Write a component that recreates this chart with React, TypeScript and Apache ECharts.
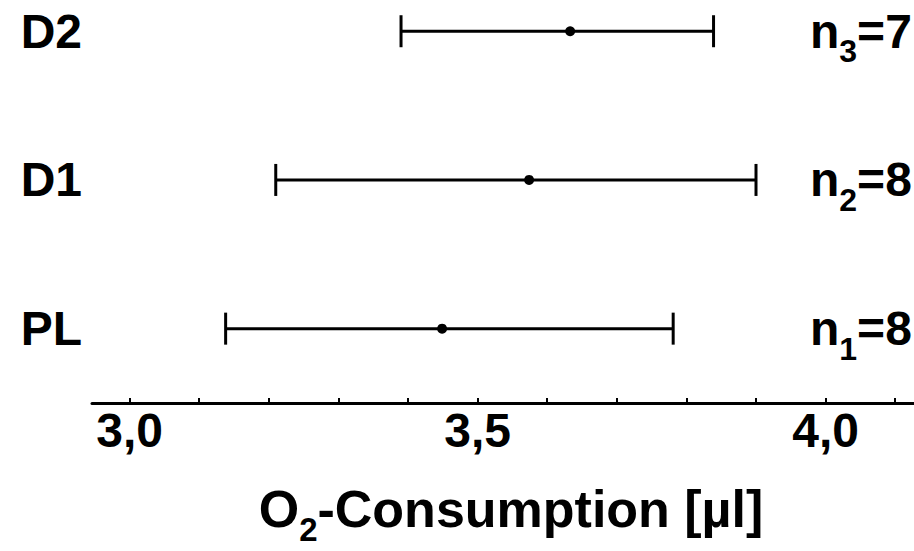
import React, { useEffect, useRef } from "react";
import * as echarts from "echarts";

const categories = ["PL", "D1", "D2"];
const means = [3.449, 3.574, 3.633];
const lows = [3.138, 3.21, 3.39];
const highs = [3.781, 3.9, 3.839];
const nSubs = ["1", "2", "3"];
const nValues = [8, 8, 7];
const tickValues = [3.0, 3.1, 3.2, 3.3, 3.4, 3.5, 3.6, 3.7, 3.8, 3.9, 4.0, 4.1];
const labelValues = [3.0, 3.5, 4.0];

const FONT = "'Liberation Sans', Arial, Helvetica, sans-serif";

export default function App() {
  const ref = useRef<HTMLDivElement>(null);
  useEffect(() => {
    if (!ref.current) return;
    const chart = echarts.init(ref.current, undefined, { renderer: "svg" });
    const data = categories.map((c, i) => [i + 1, lows[i], means[i], highs[i]]);
    const option: any = {
      animation: false,
      backgroundColor: "#ffffff",
      grid: { left: 92, right: 0, top: 0, bottom: 143, containLabel: false },
      xAxis: {
        type: "value",
        min: 2.946,
        max: 4.127,
        axisLine: { show: true, lineStyle: { color: "#000", width: 3 } },
        axisTick: {
          show: true,
          inside: true,
          length: 5,
          customValues: tickValues,
          lineStyle: { color: "#000", width: 2 },
        },
        axisLabel: {
          show: true,
          customValues: labelValues,
          margin: 3,
          color: "#000",
          fontFamily: FONT,
          fontWeight: "bold",
          fontSize: 48,
          formatter: (v: number) => v.toFixed(1).replace(".", ","),
        },
        splitLine: { show: false },
        name: "{a|O}{b|2}{a|-Consumption [µl]}",
        nameLocation: "middle",
        nameGap: 80,
        nameTextStyle: {
          color: "#000",
          padding: [0, 0, 0, 16],
          rich: {
            a: {
              fontFamily: FONT,
              fontWeight: "bold",
              fontSize: 52,
              lineHeight: 52,
              color: "#000",
              verticalAlign: "top",
            },
            b: {
              fontFamily: FONT,
              fontWeight: "bold",
              fontSize: 33,
              lineHeight: 33,
              color: "#000",
              verticalAlign: "top",
              padding: [30, 0, 0, 0],
            },
          },
        },
      },
      yAxis: {
        type: "value",
        min: 0.5,
        max: 3.21,
        axisLine: { show: false },
        axisTick: { show: false },
        splitLine: { show: false },
        axisLabel: {
          show: true,
          customValues: [1, 2, 3],
          margin: 10,
          color: "#000",
          fontFamily: FONT,
          fontWeight: "bold",
          fontSize: 48,
          formatter: (v: number) => categories[Math.round(v) - 1] ?? "",
        },
      },
      series: [
        {
          type: "custom",
          data,
          encode: { x: [1, 2, 3], y: 0 },
          clip: false,
          renderItem: (params: any, api: any) => {
            const i = params.dataIndex;
            const yv = api.value(0);
            const lo = api.coord([api.value(1), yv]);
            const mid = api.coord([api.value(2), yv]);
            const hi = api.coord([api.value(3), yv]);
            const cap = 16;
            const cs = params.coordSys;
            const ls = { stroke: "#000", lineWidth: 3 };
            return {
              type: "group",
              children: [
                { type: "line", shape: { x1: lo[0], y1: lo[1], x2: hi[0], y2: hi[1] }, style: ls },
                { type: "line", shape: { x1: lo[0], y1: lo[1] - cap, x2: lo[0], y2: lo[1] + cap }, style: ls },
                { type: "line", shape: { x1: hi[0], y1: hi[1] - cap, x2: hi[0], y2: hi[1] + cap }, style: ls },
                { type: "circle", shape: { cx: mid[0], cy: mid[1], r: 5 }, style: { fill: "#000" } },
                {
                  type: "text",
                  x: cs.x + cs.width - 104,
                  y: mid[1] - 24,
                  style: {
                    text: `{a|n}{b|${nSubs[i]}}{a|=${nValues[i]}}`,
                    align: "left",
                    verticalAlign: "top",
                    rich: {
                      a: {
                        fontFamily: FONT,
                        fontWeight: "bold",
                        fontSize: 48,
                        lineHeight: 48,
                        fill: "#000",
                        verticalAlign: "top",
                      },
                      b: {
                        fontFamily: FONT,
                        fontWeight: "bold",
                        fontSize: 32,
                        lineHeight: 32,
                        fill: "#000",
                        verticalAlign: "top",
                        padding: [28, 0, 0, 0],
                      },
                    },
                  },
                },
              ],
            };
          },
        },
      ],
    };
    chart.setOption(option);
    return () => chart.dispose();
  }, []);
  return (
    <div
      ref={ref}
      style={{ position: "absolute", left: 0, top: 0, width: 914, height: 551 }}
    />
  );
}
